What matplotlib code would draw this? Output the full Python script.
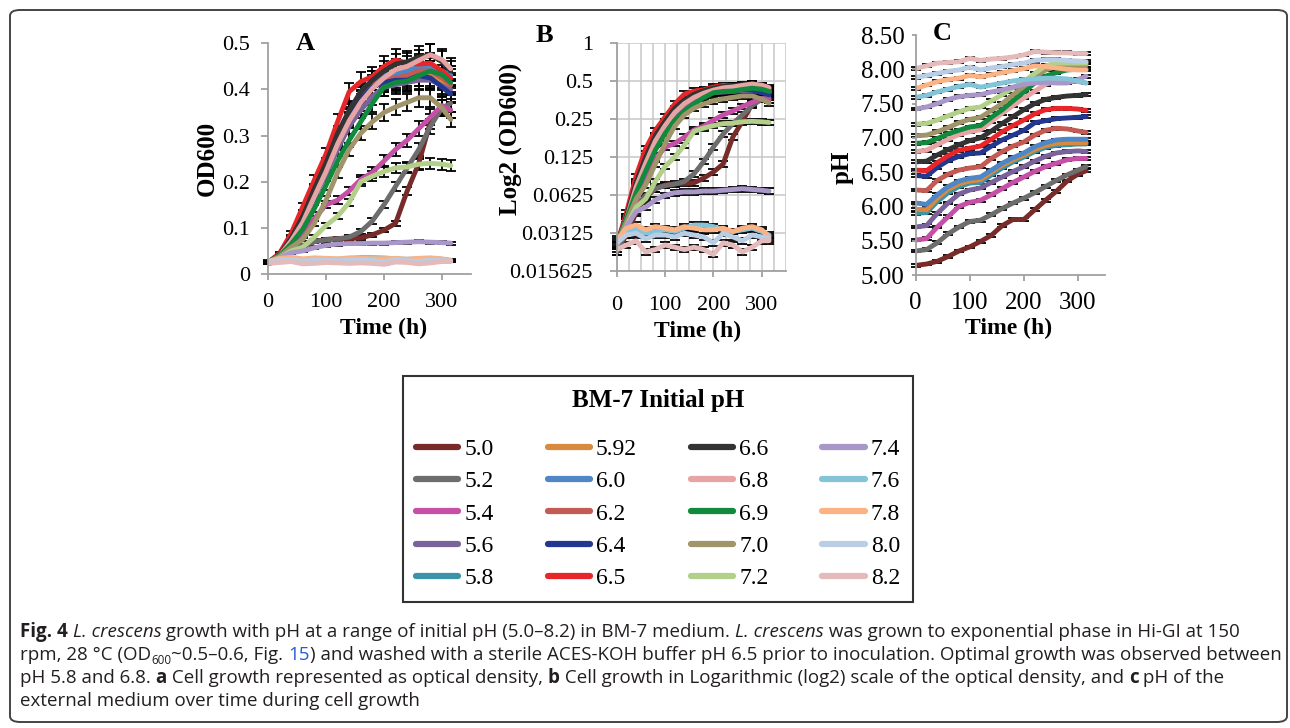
import matplotlib
matplotlib.use("Agg")
import matplotlib.pyplot as plt
from matplotlib.patches import FancyBboxPatch
from matplotlib.lines import Line2D
from matplotlib.ticker import FixedLocator, FixedFormatter, MultipleLocator

# ---------------- data ----------------
time_h = [0, 20, 40, 60, 80, 100, 120, 140, 160, 180, 200, 220, 240, 260, 280, 300, 315]

labels = ["5.0", "5.2", "5.4", "5.6", "5.8", "5.92", "6.0", "6.2", "6.4", "6.5",
          "6.6", "6.8", "6.9", "7.0", "7.2", "7.4", "7.6", "7.8", "8.0", "8.2"]

colors = ["#772C2A", "#6D6D6D", "#C550A5", "#7A629B", "#3A93A8", "#D88A3E", "#4F86C6",
          "#C45A54", "#22378F", "#E8262A", "#333333", "#E6A4A4", "#118A3E", "#A0946B",
          "#B3D08A", "#A897C8", "#84C4D9", "#FBB386", "#B9CDE5", "#E4BABA"]

od_50 = [0.022, 0.03, 0.045, 0.06, 0.07, 0.075, 0.077, 0.077, 0.078, 0.085, 0.095, 0.11, 0.18, 0.24, 0.33, 0.36, 0.355]
od_52 = [0.022, 0.032, 0.05, 0.062, 0.07, 0.074, 0.076, 0.08, 0.092, 0.115, 0.15, 0.19, 0.23, 0.27, 0.32, 0.36, 0.37]
od_54 = [0.025, 0.035, 0.055, 0.085, 0.12, 0.15, 0.16, 0.18, 0.205, 0.22, 0.245, 0.27, 0.29, 0.315, 0.34, 0.365, 0.355]
od_56 = [0.025, 0.04, 0.07, 0.11, 0.165, 0.215, 0.27, 0.32, 0.355, 0.385, 0.405, 0.41, 0.415, 0.42, 0.42, 0.41, 0.40]
od_58 = [0.025, 0.042, 0.075, 0.12, 0.175, 0.23, 0.29, 0.345, 0.39, 0.42, 0.43, 0.435, 0.44, 0.445, 0.445, 0.44, 0.43]
od_592 = [0.025, 0.04, 0.072, 0.115, 0.17, 0.225, 0.285, 0.335, 0.38, 0.405, 0.415, 0.42, 0.425, 0.43, 0.43, 0.42, 0.41]
od_60 = [0.025, 0.042, 0.075, 0.12, 0.178, 0.235, 0.295, 0.35, 0.395, 0.42, 0.43, 0.435, 0.44, 0.45, 0.45, 0.44, 0.43]
od_62 = [0.025, 0.04, 0.072, 0.118, 0.172, 0.228, 0.288, 0.34, 0.385, 0.41, 0.42, 0.425, 0.43, 0.44, 0.44, 0.425, 0.41]
od_64 = [0.025, 0.04, 0.07, 0.115, 0.17, 0.23, 0.29, 0.34, 0.38, 0.405, 0.415, 0.42, 0.42, 0.43, 0.425, 0.405, 0.39]
od_65 = [0.025, 0.045, 0.088, 0.146, 0.204, 0.26, 0.33, 0.395, 0.417, 0.428, 0.45, 0.464, 0.457, 0.455, 0.457, 0.44, 0.424]
od_66 = [0.025, 0.042, 0.078, 0.125, 0.185, 0.24, 0.305, 0.355, 0.395, 0.42, 0.44, 0.455, 0.46, 0.47, 0.475, 0.46, 0.44]
od_68 = [0.025, 0.04, 0.072, 0.112, 0.168, 0.222, 0.282, 0.332, 0.372, 0.402, 0.425, 0.443, 0.45, 0.463, 0.475, 0.465, 0.445]
od_69 = [0.025, 0.04, 0.065, 0.097, 0.142, 0.192, 0.245, 0.29, 0.33, 0.37, 0.405, 0.415, 0.418, 0.43, 0.44, 0.432, 0.415]
od_70 = [0.025, 0.038, 0.058, 0.075, 0.11, 0.16, 0.22, 0.27, 0.305, 0.33, 0.35, 0.362, 0.372, 0.382, 0.382, 0.36, 0.335]
od_72 = [0.025, 0.035, 0.05, 0.058, 0.08, 0.105, 0.125, 0.155, 0.2, 0.212, 0.222, 0.23, 0.232, 0.238, 0.24, 0.238, 0.235]
od_74 = [0.025, 0.035, 0.046, 0.05, 0.057, 0.062, 0.065, 0.066, 0.066, 0.067, 0.067, 0.068, 0.069, 0.07, 0.069, 0.068, 0.067]
od_76 = [0.028, 0.032, 0.033, 0.031, 0.032, 0.033, 0.032, 0.034, 0.036, 0.036, 0.035, 0.033, 0.032, 0.033, 0.034, 0.032, 0.03]
od_78 = [0.027, 0.034, 0.036, 0.033, 0.035, 0.034, 0.033, 0.035, 0.034, 0.033, 0.033, 0.034, 0.032, 0.034, 0.035, 0.033, 0.029]
od_80 = [0.026, 0.03, 0.031, 0.028, 0.03, 0.03, 0.029, 0.031, 0.03, 0.029, 0.026, 0.031, 0.029, 0.027, 0.03, 0.029, 0.028]
od_82 = [0.023, 0.025, 0.027, 0.022, 0.023, 0.025, 0.024, 0.023, 0.024, 0.023, 0.021, 0.026, 0.025, 0.022, 0.024, 0.027, 0.027]

ph_50 = [5.14, 5.16, 5.2, 5.27, 5.35, 5.41, 5.49, 5.58, 5.72, 5.81, 5.81, 5.95, 6.09, 6.22, 6.37, 6.47, 6.52]
ph_52 = [5.35, 5.37, 5.47, 5.6, 5.7, 5.78, 5.8, 5.88, 5.97, 6.05, 6.12, 6.2, 6.29, 6.38, 6.46, 6.53, 6.58]
ph_54 = [5.51, 5.53, 5.7, 5.85, 6.0, 6.06, 6.09, 6.17, 6.26, 6.35, 6.43, 6.51, 6.58, 6.63, 6.68, 6.7, 6.7]
ph_56 = [5.7, 5.72, 5.9, 6.05, 6.18, 6.24, 6.27, 6.35, 6.43, 6.51, 6.58, 6.66, 6.73, 6.78, 6.8, 6.81, 6.8]
ph_58 = [5.9, 5.91, 6.07, 6.2, 6.29, 6.34, 6.35, 6.46, 6.56, 6.65, 6.72, 6.8, 6.86, 6.89, 6.9, 6.91, 6.91]
ph_592 = [5.96, 5.95, 6.12, 6.25, 6.33, 6.37, 6.39, 6.5, 6.6, 6.68, 6.75, 6.83, 6.89, 6.92, 6.93, 6.93, 6.93]
ph_60 = [6.05, 6.03, 6.17, 6.29, 6.37, 6.41, 6.43, 6.53, 6.63, 6.71, 6.78, 6.87, 6.93, 6.97, 6.98, 6.98, 6.98]
ph_62 = [6.24, 6.23, 6.38, 6.47, 6.53, 6.56, 6.58, 6.7, 6.8, 6.88, 6.94, 7.04, 7.11, 7.14, 7.13, 7.1, 7.08]
ph_64 = [6.45, 6.44, 6.57, 6.67, 6.73, 6.77, 6.78, 6.88, 6.97, 7.04, 7.11, 7.22, 7.25, 7.28, 7.29, 7.3, 7.31]
ph_65 = [6.53, 6.52, 6.64, 6.74, 6.82, 6.85, 6.88, 6.98, 7.09, 7.18, 7.26, 7.35, 7.41, 7.43, 7.43, 7.42, 7.4]
ph_66 = [6.65, 6.66, 6.75, 6.83, 6.9, 6.96, 7.0, 7.1, 7.21, 7.31, 7.41, 7.5, 7.56, 7.59, 7.61, 7.62, 7.63]
ph_68 = [6.8, 6.82, 6.9, 6.98, 7.05, 7.09, 7.12, 7.24, 7.36, 7.47, 7.58, 7.68, 7.78, 7.83, 7.84, 7.82, 7.8]
ph_69 = [6.92, 6.93, 6.99, 7.06, 7.11, 7.16, 7.18, 7.3, 7.41, 7.54, 7.67, 7.8, 7.9, 7.95, 7.99, 8.0, 8.01]
ph_70 = [7.03, 7.04, 7.09, 7.15, 7.22, 7.27, 7.3, 7.4, 7.5, 7.63, 7.75, 7.88, 7.99, 8.04, 8.06, 8.06, 8.06]
ph_72 = [7.2, 7.21, 7.26, 7.32, 7.38, 7.43, 7.45, 7.54, 7.63, 7.73, 7.82, 7.94, 8.05, 8.09, 8.09, 8.09, 8.09]
ph_74 = [7.42, 7.45, 7.5, 7.56, 7.6, 7.62, 7.63, 7.67, 7.7, 7.74, 7.78, 7.8, 7.81, 7.8, 7.8, 7.85, 7.9]
ph_76 = [7.59, 7.62, 7.67, 7.71, 7.75, 7.78, 7.74, 7.77, 7.8, 7.83, 7.85, 7.86, 7.87, 7.87, 7.86, 7.83, 7.8]
ph_78 = [7.72, 7.77, 7.82, 7.85, 7.87, 7.91, 7.89, 7.92, 7.95, 7.98, 8.01, 8.05, 8.04, 8.02, 8.0, 7.99, 7.99]
ph_80 = [7.88, 7.91, 7.94, 7.97, 7.99, 8.03, 7.99, 8.02, 8.04, 8.07, 8.09, 8.13, 8.14, 8.14, 8.13, 8.12, 8.11]
ph_82 = [8.01, 8.05, 8.09, 8.1, 8.11, 8.16, 8.13, 8.15, 8.16, 8.18, 8.21, 8.26, 8.25, 8.24, 8.24, 8.23, 8.23]

od_series = [od_50, od_52, od_54, od_56, od_58, od_592, od_60, od_62, od_64, od_65,
             od_66, od_68, od_69, od_70, od_72, od_74, od_76, od_78, od_80, od_82]
ph_series = [ph_50, ph_52, ph_54, ph_56, ph_58, ph_592, ph_60, ph_62, ph_64, ph_65,
             ph_66, ph_68, ph_69, ph_70, ph_72, ph_74, ph_76, ph_78, ph_80, ph_82]

od_rel_err = 0.05      # relative standard error of OD600
ph_err = 0.02          # standard error of pH

od_ticks = [0, 0.1, 0.2, 0.3, 0.4, 0.5]
od_ticklabels = ["0", "0.1", "0.2", "0.3", "0.4", "0.5"]
log_ticks = [0.015625, 0.03125, 0.0625, 0.125, 0.25, 0.5, 1]
log_ticklabels = ["0.015625", "0.03125", "0.0625", "0.125", "0.25", "0.5", "1"]
ph_ticks = [5.0, 5.5, 6.0, 6.5, 7.0, 7.5, 8.0, 8.5]
ph_ticklabels = ["5.00", "5.50", "6.00", "6.50", "7.00", "7.50", "8.00", "8.50"]
time_ticks = [0, 100, 200, 300]

# ---------------- figure ----------------
W, H = 1290, 728
fig = plt.figure(figsize=(W / 100, H / 100), dpi=100)
SERIF = ["Liberation Serif", "DejaVu Serif"]
SPINE = "#A0A0A0"
LW = 3.5


def px_axes(x0, y0, x1, y1):
    return fig.add_axes([x0 / W, 1 - y1 / H, (x1 - x0) / W, (y1 - y0) / H])


def style_axes(ax, tsize, ylen, ypad, xpad, xlab_xy, ylab_xy):
    for s in ("top", "right"):
        ax.spines[s].set_visible(False)
    for s in ("left", "bottom"):
        ax.spines[s].set_color(SPINE)
        ax.spines[s].set_linewidth(1.3)
    ax.tick_params(axis="both", which="major", color=SPINE, width=1.3, labelsize=tsize)
    ax.tick_params(axis="y", length=ylen, pad=ypad)
    ax.tick_params(axis="x", length=4.5, pad=xpad)
    for lab in ax.get_xticklabels() + ax.get_yticklabels():
        lab.set_family(SERIF)
    ax.set_xlim(0, 350)
    ax.xaxis.set_major_locator(FixedLocator(time_ticks))
    ax.set_xlabel("Time (h)", family=SERIF, fontsize=17, weight="bold")
    ax.xaxis.label.set_va("center")
    ax.xaxis.set_label_coords(*xlab_xy)
    ax.yaxis.label.set_va("center")
    ax.yaxis.set_label_coords(*ylab_xy)
    ax.patch.set_alpha(0)


def draw(ax, series, errs):
    for ys, e in zip(series, errs):
        ax.errorbar(time_h, ys, yerr=e, fmt="none", ecolor="black", elinewidth=1.3,
                    capsize=3.5, capthick=1.3, zorder=1, clip_on=False)
    for ys, c, lab in zip(series, colors, labels):
        ax.plot(time_h, ys, color=c, lw=LW, solid_joinstyle="round",
                solid_capstyle="round", zorder=2, label=lab)


od_errs = [[v * od_rel_err for v in s] for s in od_series]
ph_errs = [[ph_err] * len(time_h) for _ in ph_series]

# Panel A
axA = px_axes(268, 43.3, 471, 274)
draw(axA, od_series, od_errs)
axA.set_ylim(0, 0.5)
axA.yaxis.set_major_locator(FixedLocator(od_ticks))
axA.yaxis.set_major_formatter(FixedFormatter(od_ticklabels))
axA.set_ylabel("OD600", family=SERIF, fontsize=18, weight="bold")
style_axes(axA, 16, 5, 8, 9, (0.567, -0.234), (-0.30, 0.5))
fig.text(305 / W, 1 - 43.5 / H, "A", family=SERIF, fontsize=19, weight="bold",
         ha="center", va="center")

# Panel B
axB = px_axes(616.7, 43.3, 786, 270.7)
draw(axB, od_series, od_errs)
axB.set_yscale("log", base=2)
axB.set_ylim(0.015625, 1)
axB.yaxis.set_major_locator(FixedLocator(log_ticks))
axB.yaxis.set_major_formatter(FixedFormatter(log_ticklabels))
axB.yaxis.set_minor_locator(FixedLocator([]))
axB.xaxis.set_minor_locator(MultipleLocator(25))
axB.grid(True, which="both", color="#C8C8C8", lw=1.1, zorder=0)
axB.set_axisbelow(True)
axB.set_ylabel("Log2 (OD600)", family=SERIF, fontsize=18, weight="bold")
style_axes(axB, 16, 5, 12, 14, (0.48, -0.268), (-0.62, 0.58))
axB.tick_params(axis="x", which="minor", length=0)
fig.text(544 / W, 1 - 36 / H, "B", family=SERIF, fontsize=19, weight="bold",
         ha="center", va="center")

# Panel C
axC = px_axes(915.7, 35, 1105, 275)
draw(axC, ph_series, ph_errs)
axC.set_ylim(5.0, 8.5)
axC.yaxis.set_major_locator(FixedLocator(ph_ticks))
axC.yaxis.set_major_formatter(FixedFormatter(ph_ticklabels))
axC.set_ylabel("pH", family=SERIF, fontsize=18, weight="bold")
style_axes(axC, 18, 3, 5, 8, (0.49, -0.221), (-0.389, 0.45))
fig.text(942 / W, 1 - 34 / H, "C", family=SERIF, fontsize=19, weight="bold",
         ha="center", va="center")

# Legend
handles = [Line2D([], [], color=c, lw=4.5, solid_capstyle="round") for c in colors]
leg = fig.legend(handles, labels, ncol=4, loc="upper left", mode="expand",
                 bbox_to_anchor=(403 / W, 1 - 603 / H, 510 / W, 227 / H), borderaxespad=0,
                 frameon=True, fancybox=False, edgecolor="black",
                 title="BM-7 Initial pH",
                 title_fontproperties={"family": SERIF, "weight": "bold", "size": 18},
                 prop={"family": SERIF, "size": 17},
                 handlelength=1.8, handletextpad=0.25, columnspacing=1.5,
                 labelspacing=0.46, borderpad=0.55)
leg.get_frame().set_linewidth(1.5)
leg._legend_box.sep = 19

# Outer rounded frame
frame = FancyBboxPatch((10 / W, 6 / H), 1277 / W, 712 / H,
                       boxstyle="round,pad=0,rounding_size=0.008",
                       transform=fig.transFigure, fill=False, edgecolor="#444444",
                       lw=1.4, zorder=-5)
fig.patches.append(frame)

# Caption
CAP = ["Open Sans", "DejaVu Sans"]
renderer = fig.canvas.get_renderer()


def advance(txt, **kw):
    a = fig.text(0, 0, "X" + txt + "X", **kw)
    b = fig.text(0, 0, "XX", **kw)
    w = a.get_window_extent(renderer).width - b.get_window_extent(renderer).width
    a.remove()
    b.remove()
    return w


R = {}
B = {"weight": "bold"}
I = {"style": "italic"}
SUB = {"rel": 0.62, "dy": -3.5}
caption_lines = [
    (637, [("Fig. 4", B), (" ", R), ("L. crescens", I),
           (" growth with pH at a range of initial pH (5.0–8.2) in BM-7 medium. ", R),
           ("L. crescens", I), (" was grown to exponential phase in Hi-GI at 150", R)]),
    (660, [("rpm, 28 °C (OD", R), ("600", SUB),
           ("~0.5–0.6, Fig. ", R), ("15", {"color": "#2A5BD7"}),
           (") and washed with a sterile ACES-KOH buffer pH 6.5 prior to inoculation. Optimal growth was observed between", R)]),
    (683, [("pH 5.8 and 6.8. ", R), ("a", B), (" Cell growth represented as optical density, ", R),
           ("b", B), (" Cell growth in Logarithmic (log2) scale of the optical density, and ", R),
           ("c", B), (" pH of the", R)]),
    (706, [("external medium over time during cell growth", R)]),
]


def run_kw(kw, size):
    kw = dict(kw)
    dy = kw.pop("dy", 0)
    rel = kw.pop("rel", 1.0)
    kw.setdefault("family", CAP)
    kw["size"] = size * rel
    kw.setdefault("color", "#231F20")
    return kw, dy


def line_width(runs, size):
    tot = 0
    for txt, kw in runs:
        k, _ = run_kw(kw, size)
        tot += advance(txt, **k)
    return tot


# fit the caption size so that the second line spans the text block width
base = 10.0
CAPSIZE = base * (1261.0 / line_width(caption_lines[1][1], base))

for ybase, runs in caption_lines:
    x = 20.0
    for txt, kw in runs:
        k, dy = run_kw(kw, CAPSIZE)
        fig.text(x / W, 1 - (ybase - dy) / H, txt, va="baseline", ha="left", **k)
        x += advance(txt, **k)

fig.savefig("out.png", dpi=100)
